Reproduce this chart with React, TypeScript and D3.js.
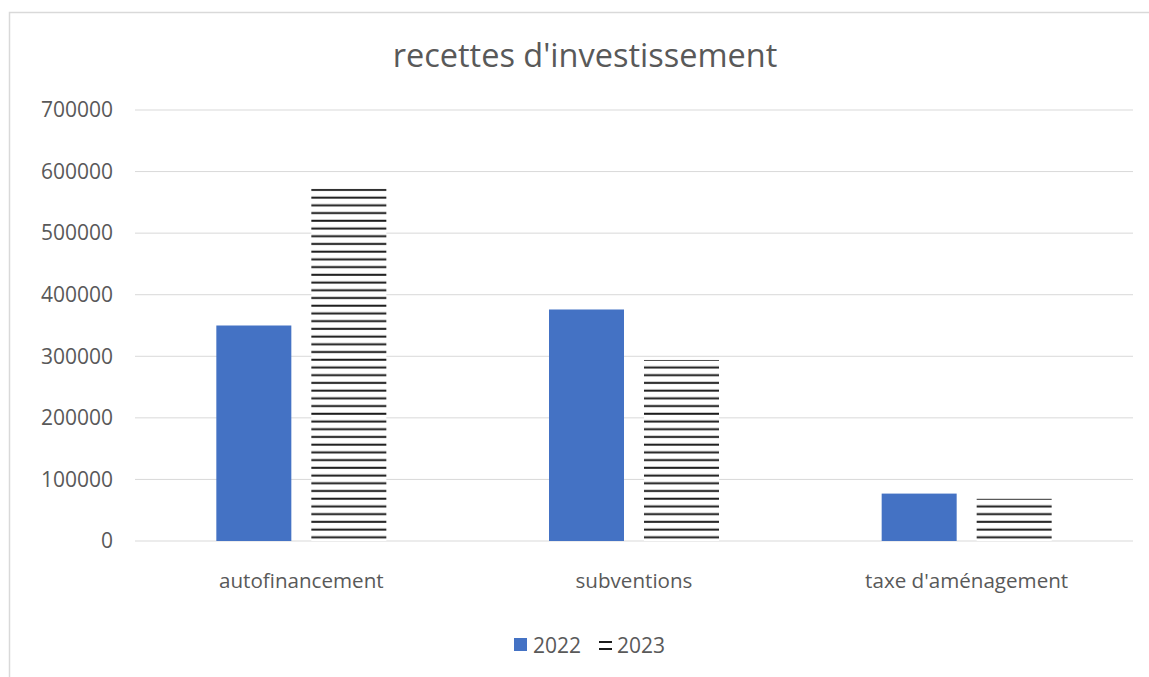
import React from "react";
import * as d3 from "d3";

const categories = ["autofinancement", "subventions", "taxe d'aménagement"];
const series = ["2022", "2023"];
const values2022 = [350000, 376000, 77000];
const values2023 = [572000, 294000, 68500];
const yTicks = [0, 100000, 200000, 300000, 400000, 500000, 600000, 700000];
const title = "recettes d'investissement";

const W = 1149;
const H = 677;
const FONT = "'Open Sans', 'Segoe UI', sans-serif";
const TEXT = "#595959";
const GRID = "#d9d9d9";
const BLUE = "#4472C4";

export default function App() {
  const left = 135;
  const right = 1133;
  const top = 110;
  const bottom = 541;

  const x0 = d3.scaleBand<string>().domain(categories).range([left, right]).paddingInner(0).paddingOuter(0);
  const bandW = x0.bandwidth();
  const barW = 75;
  const gap = 20;
  const x1 = d3
    .scaleOrdinal<string, number>()
    .domain(series)
    .range([(bandW - 2 * barW - gap) / 2, (bandW - 2 * barW - gap) / 2 + barW + gap]);
  const y = d3.scaleLinear().domain([0, 700000]).range([bottom, top]);

  const period = 7.72;
  const stripeOffset = 537.3 - Math.floor(537.3 / period) * period;

  const data = categories.map((c, i) => ({ c, v: [values2022[i], values2023[i]] }));

  return (
    <svg
      width={W}
      height={H}
      style={{ position: "absolute", left: 0, top: 0, background: "#fff" }}
      fontFamily={FONT}
    >
      <defs>
        <pattern id="hstripes" patternUnits="userSpaceOnUse" x={0} y={0} width={8} height={period}>
          <rect x={0} y={0} width={8} height={period} fill="#fff" />
          <rect x={0} y={stripeOffset - 1} width={8} height={2} fill="#1c1c1c" />
        </pattern>
        <pattern id="legstripes" patternUnits="userSpaceOnUse" x={0} y={638} width={8} height={7}>
          <rect x={0} y={0} width={8} height={7} fill="#fff" />
          <rect x={0} y={3} width={8} height={2} fill="#1c1c1c" />
        </pattern>
      </defs>
      <rect x={0} y={0} width={W} height={H} fill="#fff" />
      <rect x={9.5} y={12.5} width={W + 20} height={H + 20} fill="none" stroke={GRID} strokeWidth={1.5} />

      <text x={585} y={67} textAnchor="middle" fontSize={32.5} fill={TEXT}>
        {title}
      </text>

      {yTicks.map((t) => (
        <g key={t}>
          <line x1={left} x2={right} y1={y(t)} y2={y(t)} stroke={GRID} strokeWidth={1} />
          <text x={113} y={y(t)} dy="0.35em" textAnchor="end" fontSize={21} fill={TEXT}>
            {t}
          </text>
        </g>
      ))}

      {data.map((d) => (
        <g key={d.c} transform={`translate(${x0(d.c)},0)`}>
          {series.map((s, j) => (
            <rect
              key={s}
              x={x1(s)}
              y={y(d.v[j])}
              width={barW}
              height={y(0) - y(d.v[j])}
              fill={j === 0 ? BLUE : "url(#hstripes)"}
            />
          ))}
          <text x={bandW / 2} y={588} textAnchor="middle" fontSize={20.6} fill={TEXT}>
            {d.c}
          </text>
        </g>
      ))}

      <g>
        <rect x={514} y={638} width={13} height={13} fill={BLUE} />
        <text x={533} y={653} fontSize={21} fill={TEXT}>
          {series[0]}
        </text>
        <rect x={599} y={638} width={13} height={13} fill="url(#legstripes)" />
        <text x={617} y={653} fontSize={21} fill={TEXT}>
          {series[1]}
        </text>
      </g>
    </svg>
  );
}
